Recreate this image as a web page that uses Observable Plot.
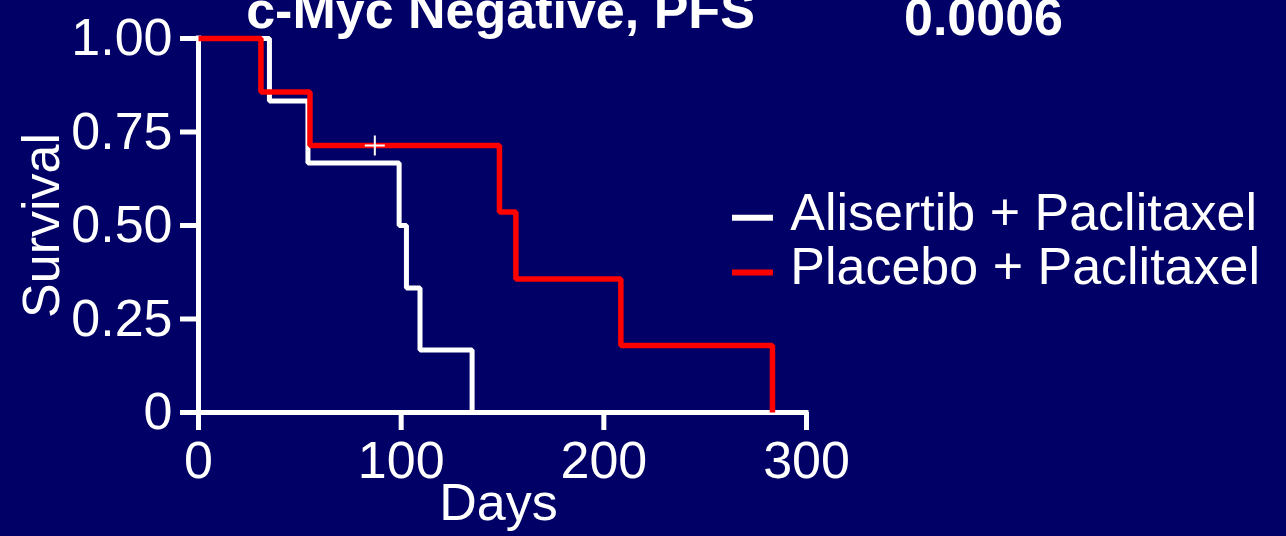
<!DOCTYPE html>
<html>
<head>
<meta charset="utf-8">
<script src="https://cdn.jsdelivr.net/npm/d3@7"></script>
<script src="https://cdn.jsdelivr.net/npm/@observablehq/plot@0.6"></script>
<style>
  html, body { margin: 0; padding: 0; background: #000066; overflow: hidden; }
  #chart { width: 1286px; height: 536px; }
</style>
</head>
<body>
<div id="chart"></div>
<script>
// ---- data ----
const arms = ["Alisertib + Paclitaxel", "Placebo + Paclitaxel"];
const armColors = ["#ffffff", "#ff0000"];
const alisertibDays = [0, 35, 54, 99, 102.6, 109.3, 135];
const alisertibSurv = [1, 0.833, 0.667, 0.5, 0.333, 0.167, 0];
const placeboDays = [0, 30.8, 55, 148.5, 156.6, 208.4, 283.2];
const placeboSurv = [1, 0.857, 0.714, 0.536, 0.357, 0.179, 0];
const censorDays = [87];
const censorSurv = [0.714];
const xTicks = [0, 100, 200, 300];
const yTicks = [0, 0.25, 0.5, 0.75, 1];
const titleText = "c-Myc Negative, PFS";
const pValueText = "0.0006";
const xLabel = "Days";
const yLabel = "Survival";

// ---- tables built from the arrays ----
const alisertib = alisertibDays.map((d, i) => ({day: d, surv: alisertibSurv[i]}));
const placebo = placeboDays.map((d, i) => ({day: d, surv: placeboSurv[i]}));
const censors = censorDays.map((d, i) => ({day: d, surv: censorSurv[i]}));
const legendRows = arms.map((a, i) => ({name: a, color: armColors[i], ty: [0.529, 0.385][i], ly: [0.521, 0.374][i]}));

const font = "'Liberation Sans', Arial, sans-serif";
const fs = 52;

const chart = Plot.plot({
  width: 1286,
  height: 536,
  marginLeft: 198,
  marginRight: 480,
  marginTop: 38,
  marginBottom: 124,
  style: {background: "#000066", color: "white", fontFamily: font, overflow: "visible"},
  x: {domain: [0, 300]},
  y: {domain: [0, 1]},
  color: {type: "identity"},
  marks: [
    Plot.axisX({ticks: xTicks, tickSize: 18, tickPadding: 11, stroke: "white", strokeWidth: 5,
      fill: "white", fontSize: fs, label: null, tickFormat: d => String(d)}),
    Plot.axisY({ticks: yTicks, tickSize: 18, tickPadding: 8, stroke: "white", strokeWidth: 5,
      fill: "white", fontSize: fs, label: null, tickFormat: d => d === 0 ? "0" : d.toFixed(2)}),
    Plot.ruleY([0], {x1: 0, x2: 300, stroke: "white", strokeWidth: 5, strokeLinecap: "square"}),
    Plot.ruleX([0], {y1: 0, y2: 1, stroke: "white", strokeWidth: 5, strokeLinecap: "square"}),
    Plot.line(alisertib, {x: "day", y: "surv", curve: "step-after", stroke: armColors[0],
      strokeWidth: 5, strokeLinejoin: "miter", strokeLinecap: "butt"}),
    Plot.line(placebo, {x: "day", y: "surv", curve: "step-after", stroke: armColors[1],
      strokeWidth: 5.5, strokeLinejoin: "miter", strokeLinecap: "butt"}),
    Plot.dot(censors, {x: "day", y: "surv", symbol: "plus", r: 6.5, stroke: "white", strokeWidth: 2}),
    // legend
    Plot.ruleY(legendRows, {y: "ly", x1: 263.5, x2: 283.7, stroke: "color", strokeWidth: 6}),
    Plot.text(legendRows, {y: "ty", x: 292, text: "name", textAnchor: "start", lineAnchor: "middle",
      fill: "white", fontSize: fs, dy: -1}),
    // titles and axis labels
    Plot.text([titleText], {frameAnchor: "top", textAnchor: "middle", lineAnchor: "middle",
      dx: -2, dy: -27.6, fill: "white", fontSize: fs, fontWeight: "bold"}),
    Plot.text([pValueText], {frameAnchor: "top-right", textAnchor: "middle", lineAnchor: "middle",
      dx: 177, dy: -20, fill: "white", fontSize: fs, fontWeight: "bold"}),
    Plot.text([xLabel], {frameAnchor: "bottom", textAnchor: "middle", lineAnchor: "middle",
      dx: -4, dy: 91, fill: "white", fontSize: fs}),
    Plot.text([yLabel], {frameAnchor: "left", textAnchor: "middle", lineAnchor: "middle",
      rotate: -90, dx: -156.6, fill: "white", fontSize: fs})
  ]
});
document.getElementById("chart").appendChild(chart);
</script>
</body>
</html>
